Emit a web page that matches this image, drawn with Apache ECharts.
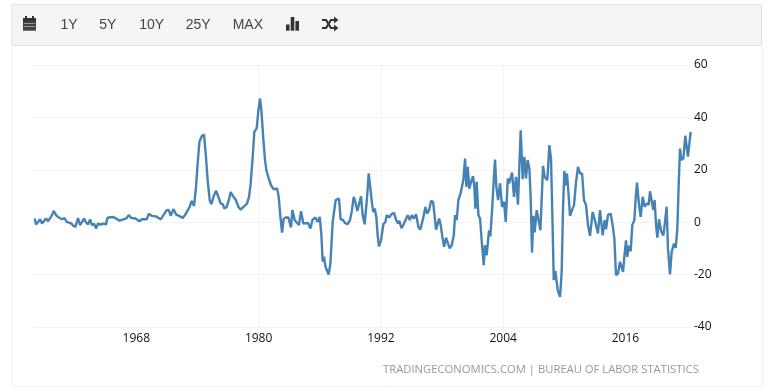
<!DOCTYPE html>
<html><head><meta charset="utf-8">
<style>html,body{margin:0;padding:0;background:#fff}#c{width:773px;height:392px}</style>
<script src="https://cdn.jsdelivr.net/npm/echarts@6/dist/echarts.min.js"></script>
</head><body><div id="c"></div>
<script>
const years=[1958.03,1958.16,1958.36,1958.55,1958.75,1958.94,1959.14,1959.34,1959.53,1959.73,1959.89,1960.12,1960.32,1960.51,1960.71,1960.94,1961.17,1961.36,1961.63,1961.82,1962.02,1962.28,1962.48,1962.67,1962.87,1963.07,1963.26,1963.46,1963.65,1963.85,1964.05,1964.24,1964.5,1964.83,1965.03,1965.16,1965.42,1965.75,1966.01,1966.34,1966.73,1967.06,1967.25,1967.51,1967.91,1968.3,1968.56,1969.02,1969.22,1969.54,1969.94,1970.13,1970.39,1970.66,1970.98,1971.18,1971.37,1971.64,1971.9,1972.22,1972.55,1972.81,
1973.24,1973.43,1973.66,1973.83,1974.02,1974.19,1974.42,1974.64,1974.81,1975.0,1975.2,1975.36,1975.59,1975.82,1976.05,1976.28,1976.48,1976.64,1976.87,1977.07,1977.26,1977.49,1977.75,1978.01,1978.24,1978.54,1978.86,1979.06,1979.22,1979.42,1979.58,1979.81,1979.98,1980.14,1980.27,1980.47,1980.63,1980.76,1981.02,1981.22,1981.48,1981.81,1981.97,1982.14,1982.3,1982.46,1982.66,1982.92,
1983.18,1983.31,1983.54,1983.73,1983.96,1984.16,1984.39,1984.58,1984.85,1985.08,1985.3,1985.57,1985.8,1985.99,1986.15,1986.29,1986.42,1986.55,1986.71,1986.87,1987.04,1987.17,1987.27,1987.4,1987.56,1987.73,1987.89,1988.05,1988.25,1988.48,1988.71,1988.97,1989.16,1989.33,1989.49,1989.69,1989.88,1990.05,1990.21,1990.41,1990.54,1990.67,1990.8,1990.96,1991.13,1991.26,1991.39,1991.55,1991.68,1991.81,1992.01,1992.24,1992.44,1992.57,1992.83,1993.02,1993.29,1993.48,1993.68,1993.81,1994.01,1994.2,
1994.37,1994.63,1994.83,1995.02,1995.22,1995.45,1995.68,1995.87,1996.14,1996.37,1996.53,1996.73,1996.92,1997.12,1997.25,1997.41,1997.54,1997.71,1997.87,1998.03,1998.2,1998.39,1998.56,1998.75,1998.95,1999.15,1999.28,1999.44,1999.6,1999.77,1999.93,2000.09,2000.26,2000.39,2000.52,2000.68,2000.85,2001.04,2001.17,2001.27,2001.4,2001.57,2001.73,2001.89,2002.09,2002.22,2002.38,2002.61,2002.74,2002.94,2003.07,2003.2,2003.33,2003.5,2003.69,2003.89,2004.09,2004.25,2004.45,2004.58,
2004.87,2005.06,2005.26,2005.45,2005.59,2005.72,2005.91,2006.08,2006.24,2006.4,2006.57,2006.7,2006.83,2006.96,2007.09,2007.29,2007.48,2007.65,2007.78,2007.91,2008.07,2008.33,2008.53,2008.69,2008.82,2008.96,2009.12,2009.35,2009.58,2009.74,2009.87,2010.0,2010.13,2010.26,2010.43,2010.56,2010.75,2010.95,2011.15,2011.34,2011.54,2011.74,2011.93,2012.13,2012.32,2012.52,2012.78,2013.04,2013.3,2013.5,
2013.76,2013.96,2014.09,2014.29,2014.55,2014.74,2014.91,2015.07,2015.27,2015.46,2015.63,2015.76,2015.89,2016.05,2016.18,2016.31,2016.51,2016.67,2016.87,2017.0,2017.13,2017.33,2017.49,2017.69,2017.88,2018.08,2018.28,2018.41,2018.57,2018.73,2018.86,2019.0,2019.13,2019.29,2019.52,2019.72,2019.88,2020.04,2020.17,2020.37,2020.53,2020.76,2020.93,2021.09,2021.22,2021.35,2021.48,2021.68,2021.87,2022.13,2022.27,2022.4];
const values=[1.4,-0.9,0.1,1.1,-0.5,-1.1,1.4,0.4,0.8,2.7,4.3,2.7,2.0,2.7,1.1,1.6,0.1,-0.5,-0.5,-1.4,-1.8,1.6,-1.1,0.1,1.4,-0.1,-0.9,1.1,-1.1,-0.6,-2.4,-0.5,-0.9,-0.5,-0.9,1.6,1.9,2.0,1.4,0.6,1.1,1.6,2.7,1.6,1.4,0.4,1.1,1.1,3.2,2.4,2.2,2.7,1.1,2.7,4.6,4.7,2.4,5.0,2.9,2.4,1.6,2.9,
5.9,8.1,6.2,12.2,22.4,30.7,32.8,33.5,26.2,16.0,8.4,6.9,9.9,12.0,9.7,7.1,6.9,5.2,5.9,8.4,11.5,9.9,8.6,5.9,4.8,5.9,7.1,9.7,14.8,24.9,34.5,35.8,42.8,47.2,42.7,31.3,23.7,19.8,16.3,14.1,12.5,12.9,9.7,2.0,-4.0,1.4,1.8,1.8,
-2.0,4.6,0.8,0.8,-1.1,4.2,-0.5,-0.9,-0.3,-2.4,1.0,1.8,0.1,2.0,-4.3,-15.1,-13.2,-16.8,-17.3,-20.0,-15.8,-6.9,0.1,0.1,8.4,8.1,9.0,1.0,1.0,-0.3,-0.8,0.8,4.6,9.7,7.8,4.3,4.6,9.9,2.7,-0.8,-0.3,10.9,18.6,18.8,7.1,3.9,5.2,2.0,-5.0,-9.2,-6.9,-0.8,0.1,2.7,1.8,3.0,3.6,1.0,-0.5,0.5,-2.2,-1.1,
-1.5,2.7,0.8,2.7,1.4,3.0,-1.8,-2.8,1.4,5.8,3.3,4.6,8.1,7.8,3.3,-2.8,-1.1,1.4,-1.1,-5.6,-9.4,-5.9,-5.9,-10.0,-8.8,-5.0,2.7,0.8,8.4,10.3,11.0,16.0,24.3,13.5,21.1,12.8,15.4,17.6,13.5,5.2,15.4,2.7,1.4,-6.9,-16.4,-8.8,-12.6,-3.1,-5.4,6.5,16.0,23.9,13.5,8.4,14.8,5.8,7.8,0.1,16.7,14.8,
18.9,9.7,17.3,6.7,21.8,35.1,16.4,24.9,16.7,23.7,20.5,9.0,-11.6,2.4,-3.9,4.6,3.9,-3.1,9.0,21.5,17.3,16.0,29.4,24.3,3.9,-22.1,-18.6,-25.9,-28.5,-18.9,5.2,19.5,14.1,18.6,9.7,2.4,4.6,6.5,15.4,21.1,18.6,18.6,8.4,6.5,-1.1,-5.2,3.9,0.1,-4.3,4.6,
-5.0,0.8,-2.7,2.9,3.2,-1.1,-6.2,-20.2,-19.6,-15.1,-14.9,-19.0,-13.2,-6.9,-13.2,-9.0,-11.1,-1.1,0.8,9.0,15.1,6.5,2.0,9.7,5.9,7.1,6.7,11.8,12.2,4.6,8.4,-1.1,-5.9,1.1,-3.7,-5.0,0.1,5.9,-10.0,-19.9,-11.3,-8.2,-9.8,-2.4,14.1,28.1,23.7,24.3,33.0,25.0,30.0,34.5];
const yearTicks=[1968,1980,1992,2004,2016];
const rangeButtons=[['1Y',60.5],['5Y',99.3],['10Y',139.3],['25Y',185.7],['MAX',232.7]];
const sourceText='TRADINGECONOMICS.COM | BUREAU OF LABOR STATISTICS';
const font='"Open Sans","Noto Sans",sans-serif';

const g=[
 {type:'rect',z:0,shape:{x:12.5,y:45.5,width:750,height:341},style:{fill:'#fff',stroke:'#f2f2f2'}},
 {type:'rect',z:1,shape:{x:12,y:4.5,width:749.5,height:41},style:{fill:'#f5f5f5',stroke:'#e3e3e3'}},
 {type:'text',z:2,x:383,y:369.5,style:{text:sourceText,fill:'#999',font:'11.25px '+font,textVerticalAlign:'middle'}},
 {type:'rect',z:2,shape:{x:23,y:18,width:13,height:12.7},style:{fill:'#444'}},
 {type:'rect',z:2,shape:{x:23,y:18,width:13,height:3.5},style:{fill:'#333'}},
 {type:'rect',z:2,shape:{x:25,y:16,width:2,height:3},style:{fill:'#333'}},
 {type:'rect',z:2,shape:{x:32,y:16,width:2,height:3},style:{fill:'#333'}},
 {type:'rect',z:2,shape:{x:24,y:23,width:11,height:1},style:{fill:'#999'}},
 {type:'rect',z:2,shape:{x:24,y:26,width:11,height:1},style:{fill:'#999'}},
 {type:'rect',z:2,shape:{x:286,y:24.5,width:3.6,height:6.2},style:{fill:'#333'}},
 {type:'rect',z:2,shape:{x:290.7,y:17,width:3.6,height:13.7},style:{fill:'#333'}},
 {type:'rect',z:2,shape:{x:295.4,y:21,width:3.6,height:9.7},style:{fill:'#333'}},
 {type:'polyline',z:2,shape:{points:[[322,20],[326,20],[331,28],[335,28]]},style:{fill:'none',stroke:'#333',lineWidth:2.2}},
 {type:'polyline',z:2,shape:{points:[[322,28],[326,28],[331,20],[335,20]]},style:{fill:'none',stroke:'#333',lineWidth:2.2}},
 {type:'polygon',z:2,shape:{points:[[334,16.5],[338.5,20],[334,23.5]]},style:{fill:'#333'}},
 {type:'polygon',z:2,shape:{points:[[334,24.5],[338.5,28],[334,31.5]]},style:{fill:'#333'}}
];
rangeButtons.forEach(b=>g.push({type:'text',z:2,x:b[1],y:25,style:{text:b[0],fill:'#444',font:'14px "Liberation Sans",Arial,sans-serif',textVerticalAlign:'middle'}}));

const chart=echarts.init(document.getElementById('c'),null,{renderer:'canvas'});
chart.setOption({
 animation:false,
 grid:{left:33,top:65,width:658,height:262,containLabel:false},
 graphic:g,
 xAxis:{type:'value',min:1957.86,max:2022.43,
  axisLine:{show:false},axisTick:{show:false,customValues:yearTicks},
  splitLine:{show:true,showMinLine:false,showMaxLine:false,lineStyle:{color:'#f3f3f3',width:1}},
  axisLabel:{customValues:yearTicks,margin:6,color:'#111',fontFamily:font,fontSize:12,formatter:v=>String(v)}},
 yAxis:{type:'value',position:'right',min:-40,max:60,interval:20,
  axisLine:{show:false},axisTick:{show:false},
  splitLine:{show:true,lineStyle:{color:'#f3f3f3',width:1}},
  axisLabel:{margin:3,color:'#111',fontFamily:font,fontSize:12,padding:[2,0,0,0]}},
 series:[{type:'line',data:years.map((y,i)=>[y,values[i]]),showSymbol:false,smooth:false,
  lineStyle:{color:'#4682b4',width:2.4},itemStyle:{color:'#4682b4'}}]
});
</script></body></html>
